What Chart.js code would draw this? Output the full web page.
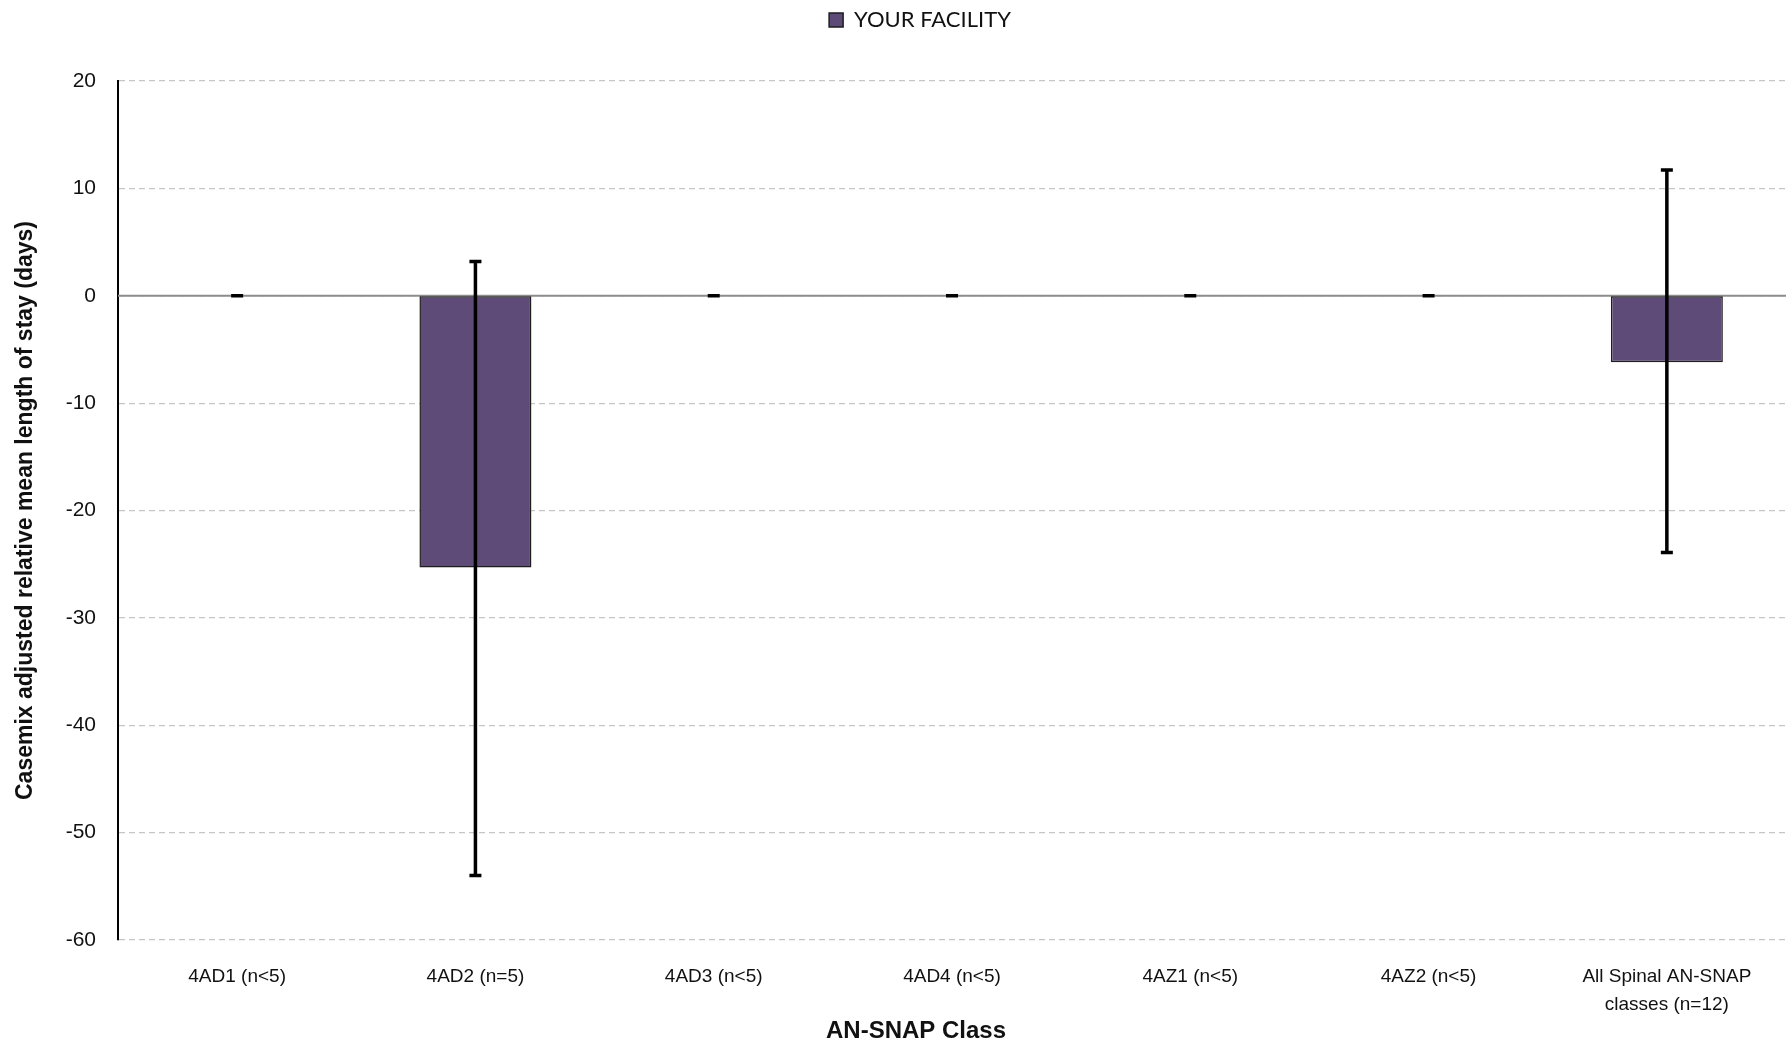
<!DOCTYPE html>
<html>
<head>
<meta charset="utf-8">
<script src="https://cdn.jsdelivr.net/npm/chart.js@4"></script>
<style>
  html, body { margin: 0; padding: 0; background: #fff; }
  #wrap { width: 1787px; height: 1052px; position: relative; }
</style>
</head>
<body>
<div id="wrap"><canvas id="losChart"></canvas></div>
<script>
const classLabels = ['4AD1 (n<5)', '4AD2 (n=5)', '4AD3 (n<5)', '4AD4 (n<5)', '4AZ1 (n<5)', '4AZ2 (n<5)', ['All Spinal AN-SNAP', 'classes (n=12)']];
const facilityValues = [null, -25.3, null, null, null, null, -6.2];
const errorHigh = [0, 3.2, 0, 0, 0, 0, 11.7];
const errorLow = [0, -54.0, 0, 0, 0, 0, -23.9];
const yTicks = [20, 10, 0, -10, -20, -30, -40, -50, -60];
const xTitle = 'AN-SNAP Class';

const baseFont = "'Liberation Sans', Arial, sans-serif";

// legend takes the whole band above the plot, nudged right like the original
const legendBand = {
    id: 'legendBand',
    afterInit(chart) {
        const lg = chart.legend;
        const origFit = lg.fit.bind(lg);
        lg.fit = function () {
            origFit();
            this.height = 81;
        };
    },
    afterLayout(chart) {
        chart.legend.left += 54;
    }
};

// solid grey zero line drawn under the bars
const zeroLine = {
    id: 'zeroLine',
    beforeDatasetsDraw(chart) {
        const { ctx, chartArea, scales } = chart;
        const y = scales.y.getPixelForValue(0);
        ctx.save();
        ctx.strokeStyle = '#8c8c8c';
        ctx.lineWidth = 2;
        ctx.beginPath();
        ctx.moveTo(chartArea.left, y);
        ctx.lineTo(chartArea.right, y);
        ctx.stroke();
        ctx.restore();
    }
};

// error bars with caps
const errorBars = {
    id: 'errorBars',
    afterDatasetsDraw(chart) {
        const { ctx, scales } = chart;
        const cap = 6;
        ctx.save();
        ctx.strokeStyle = '#000';
        ctx.lineWidth = 3.5;
        classLabels.forEach((lbl, i) => {
            const x = scales.x.getPixelForValue(i);
            const yHi = scales.y.getPixelForValue(errorHigh[i]);
            const yLo = scales.y.getPixelForValue(errorLow[i]);
            ctx.beginPath();
            if (yHi !== yLo) {
                ctx.moveTo(x, yHi);
                ctx.lineTo(x, yLo);
            }
            ctx.moveTo(x - cap, yHi);
            ctx.lineTo(x + cap, yHi);
            ctx.moveTo(x - cap, yLo);
            ctx.lineTo(x + cap, yLo);
            ctx.stroke();
        });
        ctx.restore();
    }
};

// x axis title, sits a bit left of the plot centre like the original
const xAxisTitle = {
    id: 'xAxisTitle',
    afterDraw(chart) {
        const { ctx, chartArea } = chart;
        ctx.save();
        ctx.fillStyle = '#111';
        ctx.font = "bold 24px " + baseFont;
        ctx.textAlign = 'center';
        ctx.textBaseline = 'middle';
        ctx.fillText(xTitle, (chartArea.left + chartArea.right) / 2 - 36, 1031);
        ctx.restore();
    }
};

const chart = new Chart(document.getElementById('losChart').getContext('2d'), {
    type: 'bar',
    data: {
        labels: classLabels,
        datasets: [
            {
                label: 'YOUR FACILITY',
                data: facilityValues,
                backgroundColor: '#5f4b78',
                borderColor: '#1e1e1e',
                borderWidth: 1.5,
                borderSkipped: false,
                categoryPercentage: 1,
                barPercentage: 0.47
            }
        ]
    },
    options: {
        responsive: true,
        maintainAspectRatio: false,
        animation: false,
        layout: { padding: { top: 0, right: 1, bottom: 0, left: 0 } },
        plugins: {
            tooltip: { enabled: false },
            legend: {
                position: 'top',
                labels: {
                    color: '#111',
                    font: { family: "Lato, 'Open Sans', sans-serif", size: 22 },
                    boxWidth: 14,
                    boxHeight: 14,
                    padding: 9
                }
            }
        },
        scales: {
            x: {
                grid: { display: false },
                border: { display: false },
                ticks: {
                    color: '#111',
                    font: { family: baseFont, size: 19, lineHeight: 1.45 },
                    maxRotation: 0,
                    autoSkip: false,
                    padding: 15
                },
                afterFit(scale) { scale.height = 112; }
            },
            y: {
                min: -60,
                max: 20,
                afterBuildTicks(scale) { scale.ticks = yTicks.map(v => ({ value: v })); },
                grid: {
                    color: '#c6c6c6',
                    lineWidth: 1.2,
                    drawTicks: false
                },
                border: { display: true, color: '#000', width: 2, dash: [6, 4] },
                ticks: {
                    color: '#111',
                    font: { family: baseFont, size: 21 },
                    padding: 22
                },
                title: {
                    display: true,
                    text: 'Casemix adjusted relative mean length of stay (days)',
                    color: '#111',
                    font: { family: baseFont, size: 23, weight: 'bold' },
                    padding: { top: 12, bottom: 4 }
                },
                afterFit(scale) { scale.width = 118; }
            }
        }
    },
    plugins: [legendBand, zeroLine, errorBars, xAxisTitle]
});
</script>
</body>
</html>
